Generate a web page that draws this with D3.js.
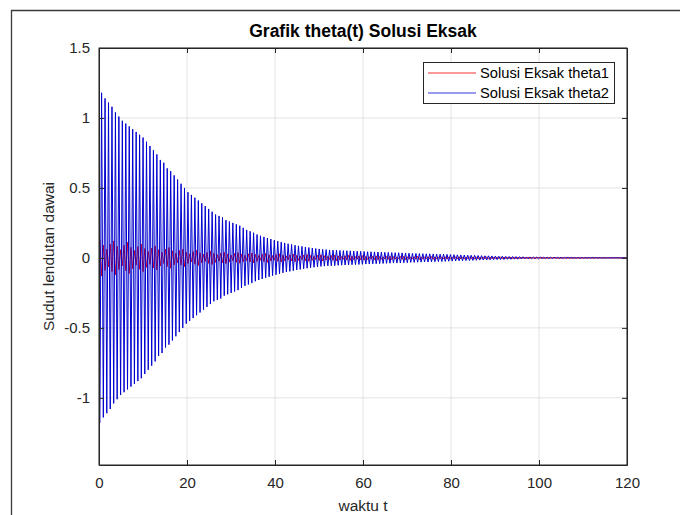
<!DOCTYPE html>
<meta charset="utf-8">
<style>
	body { margin: 0; background: #fff; }
	* { font-family: "Liberation Sans", Arial, Helvetica, sans-serif; }
	.grid line { stroke: #e3e3e3; stroke-width: 1px; }
	.axis path, .axis line { stroke: #262626; }
	.axis text { fill: #262626; font-size: 15px; }
	.trace { fill: none; stroke-width: 1px; }
</style>
<body>
<div id="chart"></div>
<script src="https://d3js.org/d3.v7.min.js"></script>
<script>
// time of first extreme and oscillation period
var tStart = 0.2;
var period = 0.785;

// amplitude of theta2 for each cycle (blue)
var theta2Amp = [
	1.18,1.14,1.11,1.08,1.04,1.01,0.98,0.96,0.94,0.92,
	0.90,0.88,0.86,0.83,0.80,0.77,0.74,0.70,0.68,0.64,
	0.62,0.59,0.56,0.53,0.50,0.47,0.45,0.43,0.41,0.39,
	0.37,0.35,0.33,0.31,0.30,0.29,0.27,0.26,0.25,0.24,
	0.23,0.215,0.20,0.19,0.18,0.167,0.158,0.15,0.142,0.135,
	0.127,0.12,0.113,0.107,0.101,0.096,0.091,0.086,0.082,0.078,
	0.074,0.070,0.067,0.064,0.061,0.059,0.057,0.056,0.055,0.053,
	0.052,0.051,0.050,0.049,0.048,0.047,0.046,0.044,0.044,0.043,
	0.042,0.041,0.040,0.039,0.038,0.037,0.037,0.036,0.035,0.034,
	0.032,0.032,0.031,0.030,0.029,0.029,0.028,0.027,0.026,0.026,
	0.025,0.024,0.023,0.022,0.021,0.020,0.019,0.019,0.018,0.017,
	0.016,0.015,0.015,0.014,0.013,0.012,0.012,0.011,0.010,0.010,
	0.009,0.009,0.008,0.007,0.007,0.006,0.006,0.006,0.005,0.005,
	0.005,0.005,0.004,0.004,0.004,0.004,0.004,0.003,0.003,0.003,
	0.003,0.003,0.003,0.003,0.003,0.002,0.002,0.002,0.002,0.002,0.002,0.002,0.002
];

// amplitude of theta1 for each cycle (red, with its beating)
var theta1Amp = [
	0.13,0.09,0.063,0.098,0.121,0.083,0.058,0.091,0.111,0.076,
	0.052,0.081,0.099,0.067,0.046,0.071,0.086,0.058,0.040,0.062,
	0.074,0.050,0.034,0.052,0.062,0.041,0.029,0.045,0.054,0.036,
	0.025,0.039,0.047,0.032,0.023,0.034,0.041,0.028,0.020,0.031,
	0.038,0.027,0.019,0.029,0.035,0.025,0.017,0.026,0.032,0.022,
	0.016,0.024,0.029,0.020,0.014,0.022,0.027,0.018,0.013,0.020,
	0.024,0.017,0.012,0.018,0.022,0.015,0.011,0.017,0.020,0.014,
	0.010,0.015,0.018,0.013,0.009,0.014,0.016,0.011,0.008,0.012,
	0.014,0.010,0.007,0.010,0.013,0.009,0.006,0.010,0.012,0.008,
	0.006,0.009,0.011,0.007,0.005,0.008,0.010,0.007,0.005,0.007,
	0.008,0.006,0.004,0.006,0.008,0.005,0.004,0.006,0.007,0.005,
	0.003,0.005,0.006,0.004,0.003,0.004,0.005,0.004,0.003,0.004,
	0.004,0.003,0.002,0.003,0.004,0.003,0.002,0.003,0.004,0.003,
	0.002,0.002,0.003,0.002,0.002,0.002,0.003,0.002,0.002,0.002,
	0.002,0.002,0.002,0.002,0.002,0.002,0.002,0.002,0.002,0.002,0.002,0.002,0.002
];

var xTicks = [0, 20, 40, 60, 80, 100, 120];
var yTicks = [-1, -0.5, 0, 0.5, 1, 1.5];
var seriesNames = ["Solusi Eksak theta1", "Solusi Eksak theta2"];
var seriesColors = ["#f00000", "#0000d0"];

var W = 680, H = 515;
var margin = {top: 48, right: 53, bottom: 50, left: 99};
var width = 627 - margin.left, height = 465 - margin.top;

var x = d3.scaleLinear().domain([0, 120]).range([0, width]);
var y = d3.scaleLinear().domain([-1.48, 1.5]).range([height, 0]);

var root = d3.select("#chart").append("svg")
	.attr("width", W).attr("height", H);

// outer figure frame (top and left edges visible)
root.append("path")
	.attr("d", "M11.5,515 V10.5 H680")
	.attr("fill", "none").attr("stroke", "#3a3a3a").attr("stroke-width", 1.3);

var svg = root.append("g")
	.attr("transform", "translate(" + margin.left + "," + margin.top + ")");

// grid
var grid = svg.append("g").attr("class", "grid");
grid.selectAll(".gx").data(xTicks).enter().append("line")
	.attr("x1", function (d) { return x(d); }).attr("x2", function (d) { return x(d); })
	.attr("y1", 0).attr("y2", height);
grid.selectAll(".gy").data(yTicks).enter().append("line")
	.attr("x1", 0).attr("x2", width)
	.attr("y1", function (d) { return y(d); }).attr("y2", function (d) { return y(d); });

// build the oscillation from the per-cycle amplitudes
function trace(amp, firstSign) {
	var pts = [];
	amp.forEach(function (a, k) {
		var t = tStart + k * period;
		pts.push([t, firstSign * a]);
		pts.push([t + period / 2, -firstSign * a]);
	});
	return pts;
}
var line = d3.line()
	.x(function (d) { return x(d[0]); })
	.y(function (d) { return y(d[1]); });

svg.append("path").datum(trace(theta1Amp, 1))
	.attr("class", "trace").attr("stroke", seriesColors[0]).attr("d", line);
svg.append("path").datum(trace(theta2Amp, -1))
	.attr("class", "trace").attr("stroke", seriesColors[1]).attr("d", line);

// axes, ticks inside, box on all sides
var tickLen = 5;
svg.append("g").attr("class", "axis")
	.attr("transform", "translate(0," + height + ")")
	.call(d3.axisBottom(x).tickValues(xTicks).tickSizeInner(-tickLen).tickSizeOuter(0).tickPadding(12));
svg.append("g").attr("class", "axis")
	.call(d3.axisTop(x).tickValues(xTicks).tickSizeInner(-tickLen).tickSizeOuter(0).tickFormat(""));
svg.append("g").attr("class", "axis")
	.call(d3.axisLeft(y).tickValues(yTicks).tickSizeInner(-tickLen).tickSizeOuter(0).tickPadding(9)
		.tickFormat(function (d) { return String(d); }));
svg.append("g").attr("class", "axis")
	.attr("transform", "translate(" + width + ",0)")
	.call(d3.axisRight(y).tickValues(yTicks).tickSizeInner(-tickLen).tickSizeOuter(0).tickFormat(""));
svg.append("rect")
	.attr("width", width).attr("height", height)
	.attr("fill", "none").attr("stroke", "#262626").attr("stroke-width", 1);

// title and labels
svg.append("text")
	.attr("x", width / 2).attr("y", -11)
	.attr("text-anchor", "middle")
	.style("font-size", "17.5px").style("font-weight", "bold").attr("fill", "#000")
	.text("Grafik theta(t) Solusi Eksak");
svg.append("text")
	.attr("x", width / 2).attr("y", height + 46)
	.attr("text-anchor", "middle")
	.style("font-size", "15.5px").attr("fill", "#262626")
	.text("waktu t");
svg.append("text")
	.attr("transform", "translate(" + (-45) + "," + (height / 2) + ") rotate(-90)")
	.attr("text-anchor", "middle")
	.style("font-size", "15.5px").attr("fill", "#262626")
	.text("Sudut lendutan dawai");

// legend
var lg = root.append("g").attr("transform", "translate(423,62)");
lg.append("rect")
	.attr("x", 0.5).attr("y", 0.5).attr("width", 191).attr("height", 41)
	.attr("fill", "#fff").attr("stroke", "#262626").attr("stroke-width", 1);
seriesNames.forEach(function (name, i) {
	var yy = 11 + i * 20;
	lg.append("line")
		.attr("x1", 5).attr("x2", 53).attr("y1", yy).attr("y2", yy)
		.attr("stroke", seriesColors[i]).attr("stroke-width", 0.8);
	lg.append("text")
		.attr("x", 57).attr("y", yy + 5)
		.style("font-size", "14.7px").attr("fill", "#000")
		.text(name);
});
</script>
</body>
